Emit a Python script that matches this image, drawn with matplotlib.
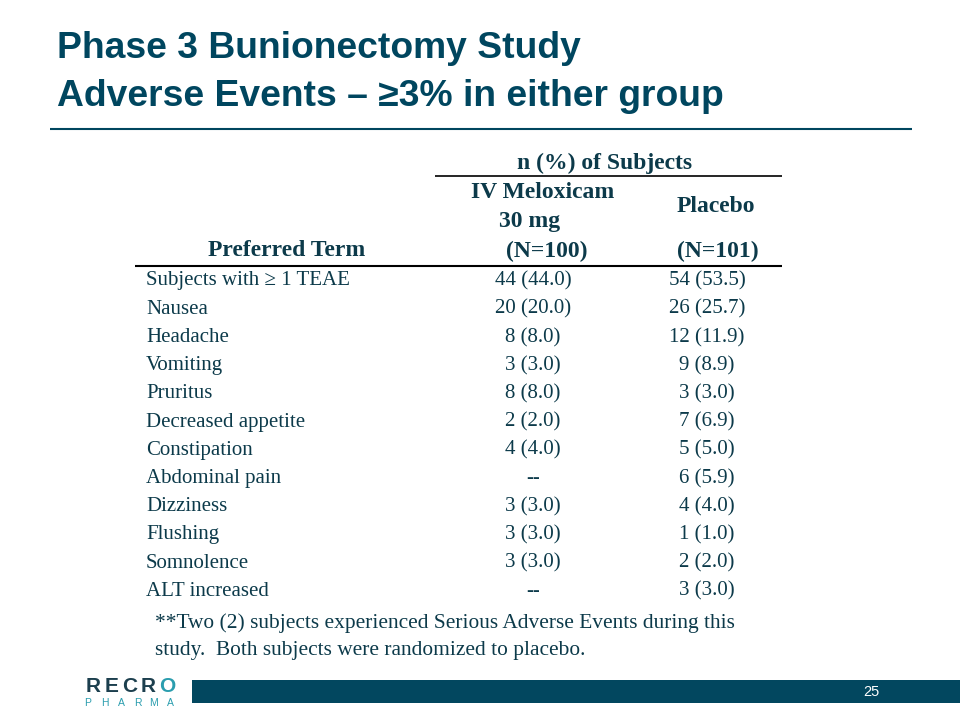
import numpy as np
import matplotlib
matplotlib.use('Agg')
import matplotlib.pyplot as plt
plt.close('all')

# table data
terms = ['Subjects with \u2265 1 TEAE', 'Nausea', 'Headache', 'Vomiting', 'Pruritus',
         'Decreased appetite', 'Constipation', 'Abdominal pain', 'Dizziness',
         'Flushing', 'Somnolence', 'ALT increased']
melox_n = [44, 20, 8, 3, 8, 2, 4, None, 3, 3, 3, None]
melox_pct = [44.0, 20.0, 8.0, 3.0, 8.0, 2.0, 4.0, None, 3.0, 3.0, 3.0, None]
plac_n = [54, 26, 12, 9, 3, 7, 5, 6, 4, 1, 2, 3]
plac_pct = [53.5, 25.7, 11.9, 8.9, 3.0, 6.9, 5.0, 5.9, 4.0, 1.0, 2.0, 3.0]

title_lines = ['Phase 3 Bunionectomy Study', 'Adverse Events \u2013 \u22653% in either group']
footnote = ['**Two (2) subjects experienced Serious Adverse Events during this',
            'study.  Both subjects were randomized to placebo.']
page_no = '25'

teal = '#00465F'
txt = '#0C3A4A'
serif = 'Liberation Serif'
sans = 'Liberation Sans'

def fmt(n, p):
    if n is None:
        return '--'
    return '%d (%.1f)' % (n, p)

fig = plt.figure(figsize=(9.6, 7.2), dpi=100)
ax = fig.add_axes([0, 0, 1, 1])
ax.set_xlim(0, 960); ax.set_ylim(720, 0)
ax.axis('off')

# title
ax.text(57, 49, title_lines[0], fontsize=26.8, fontweight='bold', family=sans, color=teal, va='center')
ax.text(57, 96, title_lines[1], fontsize=26.8, fontweight='bold', family=sans, color=teal, va='center')
ax.plot([50, 912], [129, 129], color=teal, lw=1.5, solid_capstyle='butt')

# header
col1_x, col2_x, col3_x = 146, 533, 707
hdr = dict(fontsize=17, fontweight='bold', family=serif, color=txt, ha='center', va='center')
ax.text(605, 163, 'n (%) of Subjects', **hdr)
ax.plot([435, 782], [176, 176], color='k', lw=1.2, solid_capstyle='butt')
ax.text(543, 192, 'IV Meloxicam', **hdr)
ax.text(530, 221, '30 mg', **hdr)
ax.text(716, 207, 'Placebo', **hdr)
ax.text(287, 251, 'Preferred Term', **hdr)
ax.text(547, 251, '(N=100)', **hdr)
ax.text(718, 251, '(N=101)', **hdr)
ax.plot([135, 782], [266, 266], color='k', lw=1.5, solid_capstyle='butt')

# rows
row_y = 281 + 28.2 * np.arange(len(terms))
body = dict(fontsize=15, family=serif, color=txt, va='center')
for i in range(len(terms)):
    ax.text(col1_x, row_y[i], terms[i], ha='left', **body)
    ax.text(col2_x, row_y[i], fmt(melox_n[i], melox_pct[i]), ha='center', **body)
    ax.text(col3_x, row_y[i], fmt(plac_n[i], plac_pct[i]), ha='center', **body)

# footnote
ax.text(155, 623, footnote[0], fontsize=15.4, family=serif, color=txt, va='center')
ax.text(155, 650, footnote[1], fontsize=15.4, family=serif, color=txt, va='center')

# footer bar and logo
ax.add_patch(plt.Rectangle((192, 680), 768, 23, color='#02475F', lw=0))
ax.text(871, 692, page_no, fontsize=10.5, family=sans, color='white', ha='center', va='center')
logo_letters = ['R', 'E', 'C', 'R', 'O']
logo_cols = ['#1C3F4E', '#1C3F4E', '#1C3F4E', '#1C3F4E', '#2A9DAE']
for k in range(len(logo_letters)):
    ax.text(93 + 18.5 * k, 687, logo_letters[k], fontsize=15, fontweight='heavy', family=sans,
            color=logo_cols[k], ha='center', va='center')
for k, ch in enumerate('PHARMA'):
    ax.text(88 + 16.5 * k, 703, ch, fontsize=7.5, family=sans, color='#2A9DAE', ha='center', va='center')

plt.savefig('out.png', dpi=100)
